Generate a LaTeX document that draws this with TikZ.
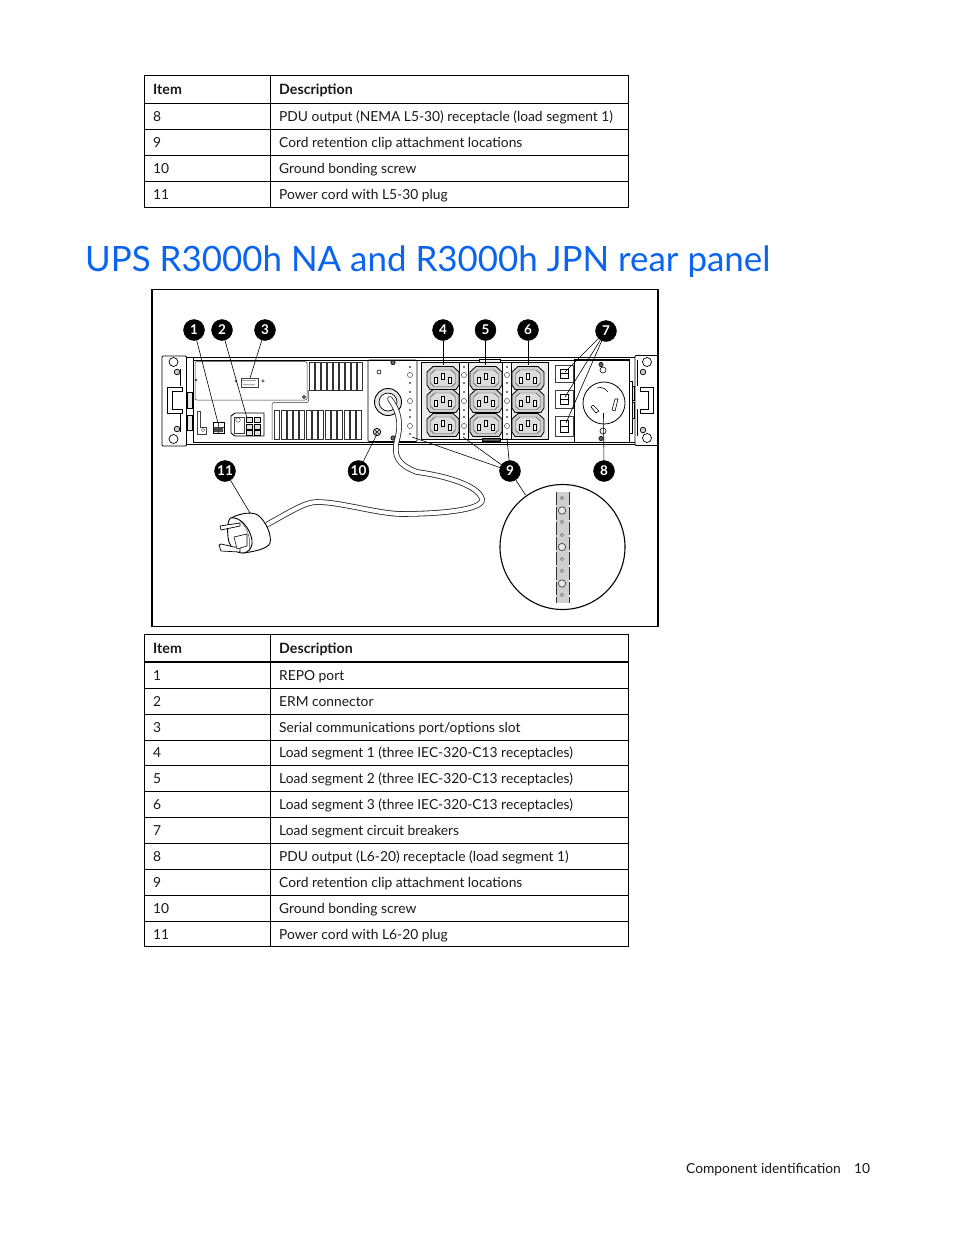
\documentclass[tikz,border=0pt]{standalone}
\usepackage{fontspec}
\setmainfont{Lato}
\definecolor{titleblue}{HTML}{0A64F0}
\definecolor{panelgray}{HTML}{CFCFCF}
\usetikzlibrary{calc}
\tikzset{
  cell/.style={anchor=base west,inner sep=0pt,font=\fontsize{13.8}{16}\selectfont,text=black!90},
  headcell/.style={cell,font=\fontsize{14.2}{16}\selectfont\bfseries},
  callout/.style={circle,fill=black,draw=black,text=white,minimum size=21pt,inner sep=0pt,font=\fontsize{13.5}{14}\selectfont\bfseries},
  leader/.style={draw=black,line width=.6pt},
  hw/.style={draw=black,line width=.7pt},
  hwthin/.style={draw=black!75,line width=.45pt},
  ventslot/.style={draw=black!80,line width=.45pt,fill=white},
  tabrule/.style={draw=black,line width=.8pt},
  tabthick/.style={draw=black,line width=1.6pt},
  pics/outlet/.style={code={
    \draw[hw,line width=.8pt,fill=panelgray] (-10,-11.5) -- (10,-11.5) -- (16,-6) -- (16,7) -- (13,11.5) -- (-13,11.5) -- (-16,7) -- (-16,-6) -- cycle;
    \draw[hwthin,fill=panelgray!70] (-8,-8) -- (8,-8) -- (12.5,-4) -- (12.5,5) -- (9,8.5) -- (-9,8.5) -- (-12.5,5) -- (-12.5,-4) -- cycle;
    \draw[hw,fill=white,line width=.5pt] (-8.5,-1) rectangle (-5.5,5);
    \draw[hw,fill=white,line width=.5pt] (5.5,-1) rectangle (8.5,5);
    \draw[hw,fill=white,line width=.5pt] (-1.3,-5) rectangle (1.3,1.5);
  }},
  pics/clipstrip/.style={code={
    \foreach \yy in {367,383,392,410,417,434}{\fill[black!70] (0,\yy) circle (1.1);}
    \foreach \yy in {375,401,426}{\draw[hwthin,fill=white] (0,\yy) circle (2.6);}
  }}
}
\begin{document}
\begin{tikzpicture}[x=1pt,y=-1pt]
\useasboundingbox (0,0) rectangle (954,1235);
\fill[white] (0,0) rectangle (954,1235);

% ---------- first table
\draw[tabrule] (144.5,75.5) rectangle (628.5,207.5);
\draw[tabrule] (270.5,75.5) -- (270.5,207.5);
\foreach \yy in {103.5,129.5,155.5,181.5}{\draw[tabrule] (144.5,\yy) -- (628.5,\yy);}
\node[headcell] (ah) at (153,94.5) {Item};
\node[headcell] (bh) at (279,94.5) {Description};
\node[cell] (a8) at (153,121) {8};
\node[cell] (b8) at (279,121) {PDU output (NEMA L5-30) receptacle (load segment 1)};
\node[cell] (a9) at (153,147) {9};
\node[cell] (b9) at (279,147) {Cord retention clip attachment locations};
\node[cell] (a10) at (153,173) {10};
\node[cell] (b10) at (279,173) {Ground bonding screw};
\node[cell] (a11) at (153,199) {11};
\node[cell] (b11) at (279,199) {Power cord with L5-30 plug};

% ---------- title
\node[anchor=base west,inner sep=0pt,text=titleblue,font=\fontsize{34.9}{40}\selectfont] (title) at (85,271) {UPS R3000h NA and R3000h JPN rear panel};

% ---------- figure frame
\draw[draw=black,line width=1.5pt] (152,289.5) rectangle (658,626.5);

% ---------- chassis
\draw[hw,line width=1.1pt] (187,357.5) -- (635,357.5);
\draw[hw,line width=.5pt] (193,360) -- (629,360);
\draw[hw,line width=1.6pt] (187,444.5) -- (635,444.5);
\draw[hw,line width=.5pt] (193,442) -- (635,442);
\draw[hw] (193,358) -- (193,443);
% left bracket
\draw[hw,line width=.9pt,rounded corners=1pt] (162,356) rectangle (186.5,446);
\draw[hw,line width=1.5pt] (180.5,369) -- (180.5,386) (180.5,409) -- (180.5,432);
\draw[hw,fill=white] (167,387) -- (182,387) -- (182,391) -- (172,391) -- (172,409) -- (182,409) -- (182,413) -- (167,413) -- cycle;
\draw[hw,fill=white] (173.5,362) circle (4.5) (173.5,439) circle (4.5);
\draw[hw,fill=panelgray] (177,372) circle (2.8) (177,429) circle (2.8);
\draw[hw,fill=panelgray!50] (187,392) rectangle (192,408) (187,415) rectangle (192,430);
% right bracket
\draw[hw,line width=.9pt,rounded corners=1pt] (635,355.5) rectangle (658,445.5);
\draw[hw,line width=1.5pt] (637.5,360) -- (637.5,386) (637.5,409) -- (637.5,436);
\draw[hw,fill=white] (640,387) -- (653,387) -- (653,413) -- (640,413) -- (640,409) -- (648,409) -- (648,391) -- (640,391) -- cycle;
\draw[hw,fill=white] (647,362) circle (4.5) (647,438) circle (4.5);
\draw[hw,fill=panelgray] (643,372) circle (2.8) (643,430) circle (2.8);
\draw[hw,fill=panelgray!50] (630,386) rectangle (634,400) (630,402) rectangle (634,418);

% upper left panel
\draw[draw=black!80,line width=.5pt,rounded corners=2pt] (195,361.5) -- (307,361.5) -- (307,400) -- (272,400) -- (195,400) -- cycle;
\draw[draw=black!80,line width=.5pt,rounded corners=2pt] (308.5,390) -- (308.5,402.5) -- (272,402.5) -- (272,440);
\draw[hwthin,fill=black!55] (196,380) circle (1) (304,397) circle (1.8);
\draw[hwthin,fill=white] (236,381) circle (1) (263,381) circle (1.2);
% vents
\foreach \xx in {309,315,...,357}{\draw[ventslot] (\xx,362.5) rectangle (\xx+5,390);}
\foreach \xx in {274.5,280.8,...,362}{\draw[ventslot] (\xx,410) rectangle (\xx+5,439);}
% REPO
\draw[hw,fill=white] (213,422) rectangle (224,433);
\fill[black!70] (214,428) rectangle (218,432) (219,428) rectangle (223,432);
\draw[hwthin] (218.5,423) -- (218.5,433) (213,427.5) -- (224,427.5);
\draw[hwthin] (197,411) -- (200,411) -- (200,427) -- (206,427) -- (206,434) -- (197,434) -- cycle;
\draw[hwthin] (203,430) circle (1.6);
% ERM
\draw[hw,fill=white,line width=.9pt] (231,416) -- (235,413) -- (264,413) -- (264,436) -- (235,436) -- (231,433) -- cycle;
\foreach \xx in {246,254}{\foreach \yy in {417,424,430}{\draw[hw,fill=panelgray!60,line width=.6pt] (\xx,\yy) rectangle +(6.5,4.8);}}
\draw[hwthin] (238,420) circle (2.3);
\draw[hwthin] (234,417) rectangle (244,433);
% serial
\draw[hwthin,fill=white] (241,378) rectangle (258,387.5);
\foreach \xx in {243,245,...,256}{\fill[black!75] (\xx,380.5) circle (.6);}
\foreach \xx in {244,246,...,255}{\fill[black!75] (\xx,384.8) circle (.6);}

% centre panel
\draw[hw,rounded corners=1pt] (368,360) -- (417,360) -- (417,441.5) -- (368,441.5) -- cycle;
\draw[hw,fill=black!60,line width=.6pt] (393,362.5) circle (2.2) (393,438) circle (2.2);
\draw[hw,line width=.6pt,fill=white] (379,372) circle (2);
\draw[hw,fill=panelgray!70,line width=.8pt] (377,432) circle (3.7);
\draw[hw,line width=.5pt] (375,430) -- (379,434) (375,434) -- (379,430);
\pic at (410,0) {clipstrip};
\draw[hw,line width=.9pt,fill=panelgray!50] (388,402) circle (13.5);
\draw[hw,line width=.7pt,fill=white] (388,402) circle (9);

% outlet block
\draw[hw,fill=panelgray!40] (421,362) rectangle (548,439);
\draw[hw,fill=panelgray!40] (479,359) rectangle (500,362);
\draw[hw,fill=black!70,line width=.3pt] (482,438) rectangle (500,441);
\foreach \xx in {464,507}{\fill[white] (\xx-4.5,362.5) rectangle (\xx+4.5,438.5);
  \draw[hw,line width=.5pt] (\xx-4.5,362.5) -- (\xx-4.5,438.5) (\xx+4.5,362.5) -- (\xx+4.5,438.5);
  \pic at (\xx,0) {clipstrip};}
\foreach \xx in {443,486,528}{\foreach \yy in {378,401,425}{\pic at (\xx,\yy) {outlet};}}

% breakers
\foreach \ya/\yb in {365/382,390/408,416/436}{
  \draw[hwthin] (555,\ya) rectangle (573.5,\yb);
  \draw[hw,fill=white,line width=.8pt] (560,\ya+4) rectangle (568.5,\yb-4);
  \draw[hw,line width=.5pt] (560,{(\ya+\yb)/2}) -- (568.5,{(\ya+\yb)/2});
}
% right panel
\draw[hw] (574,359.5) rectangle (629,442);
\draw[hw,fill=white] (629,381) rectangle (632,433);
\draw[hw,line width=.8pt,fill=white] (604,403) circle (21);
\draw[hw,line width=.6pt] (597,388) arc (250:300:9) -- (608,392);
\draw[hw,line width=.6pt] (615,399) -- (618,399) -- (615,411) -- (612,410) -- cycle;
\draw[hw,line width=.6pt] (591,407) -- (593,405) -- (599,411) -- (596,413) -- cycle;
\draw[hw,fill=black!65,line width=.5pt] (601,364.5) circle (2.2) (601,438.5) circle (2.2);
\draw[hw,line width=.6pt] (603,370) circle (3) (603,431) circle (3);

% ---------- power cord (double line)
\draw[line width=5.6pt,black!85,line cap=round] (390,399) .. controls (398,410) and (402,422) .. (397,440) .. controls (393,456) and (398,465) .. (417,472) .. controls (440,475) and (478,484) .. (482,499) .. controls (484,510) and (440,514) .. (400,514) .. controls (375,513) and (340,502) .. (317,502) .. controls (305,502) and (290,512) .. (268,524);
\draw[line width=4pt,white,line cap=round] (390,399) .. controls (398,410) and (402,422) .. (397,440) .. controls (393,456) and (398,465) .. (417,472) .. controls (440,475) and (478,484) .. (482,499) .. controls (484,510) and (440,514) .. (400,514) .. controls (375,513) and (340,502) .. (317,502) .. controls (305,502) and (290,512) .. (268,524);

% ---------- plug
\draw[hw,line width=.9pt,fill=white] (231,518) .. controls (240,513) and (254,511) .. (259,516) .. controls (266,522) and (272,535) .. (270,543) .. controls (268,549) and (252,552) .. (243,553) -- cycle;
\draw[hw,line width=.9pt,fill=white] (230.5,518) .. controls (240,516) and (250,528) .. (252,540) .. controls (253,549) and (247,554) .. (241,553) .. controls (232,551) and (229,545) .. (228,537) .. controls (227,527) and (228,520) .. (230.5,518) -- cycle;
\draw[hwthin] (237,518.5) .. controls (246,524) and (252,538) .. (249,551);
\draw[hw,line width=.7pt,fill=white] (220,526) -- (240,523) -- (240,526) -- (221,530) -- cycle;
\draw[hw,line width=.7pt,fill=white] (219,545) -- (221,544) -- (234,547) -- (240,547) -- (240,552) -- (221,551) -- cycle;
\draw[hw,line width=.6pt,fill=white] (234,537) -- (247,534) -- (247,546) -- (237,549) -- cycle;

% ---------- magnified detail
\draw[draw=black,line width=1.1pt,fill=white] (562.5,547) circle (62.5);
\fill[panelgray] (556,492) rectangle (569,603);
\draw[black!80,line width=.7pt,dash pattern=on 13pt off 2pt] (556,492) -- (556,603) (569,492) -- (569,603);
\foreach \yy in {498,522,535,559,571,595}{\draw[black!70,line width=.5pt,fill=panelgray!60] (562,\yy) circle (1.6);}
\foreach \yy in {510.5,547,583.5}{\draw[black!80,line width=.6pt,fill=panelgray!50] (562,\yy) circle (3.7);}

% ---------- callouts
\node[callout] (c1) at (194,330) {1};
\node[callout] (c2) at (222,330) {2};
\node[callout] (c3) at (265,330) {3};
\node[callout] (c4) at (443,330) {4};
\node[callout] (c5) at (485.5,330) {5};
\node[callout] (c6) at (528,330) {6};
\node[callout] (c7) at (606,331) {7};
\node[callout] (c8) at (604,471) {8};
\node[callout] (c9) at (510,471) {9};
\node[callout] (c10) at (358.5,471) {10};
\node[callout] (c11) at (225,471) {11};

\coordinate (p1) at (218,423);
\coordinate (p2) at (247,418);
\coordinate (p3) at (250,378);
\coordinate (p4) at (443,365);
\coordinate (p5) at (485.5,365);
\coordinate (p6) at (528,365);
\coordinate (p7a) at (565,372);
\coordinate (p7b) at (565,397);
\coordinate (p7c) at (566,423);
\coordinate (p8) at (603.5,413);
\coordinate (p9a) at (412,437);
\coordinate (p9b) at (463,437);
\coordinate (p9c) at (507,438);
\coordinate (p9d) at (525.5,495);
\coordinate (p10) at (377,434);
\coordinate (p11) at (250,513);
\draw[leader] (c1) -- (p1);
\draw[leader] (c2) -- (p2);
\draw[leader] (c3) -- (p3);
\draw[leader] (c4) -- (p4);
\draw[leader] (c5) -- (p5);
\draw[leader] (c6) -- (p6);
\draw[leader] (c7) -- (p7a);
\draw[leader] (c7) -- (p7b);
\draw[leader] (c7) -- (p7c);
\draw[leader] (c8) -- (p8);
\draw[leader] (c9) -- (p9a);
\draw[leader] (c9) -- (p9b);
\draw[leader] (c9) -- (p9c);
\draw[leader] (c9) -- (p9d);
\draw[leader] (c10) -- (p10);
\draw[leader] (c11) -- (p11);

% ---------- second table
\draw[tabrule] (144.5,634.5) rectangle (628.5,946.5);
\draw[tabrule] (270.5,634.5) -- (270.5,946.5);
\draw[tabthick] (144.5,662) -- (628.5,662);
\foreach \yy in {688,714,740,765.5,791.5,817.5,843.5,869,895,921}{\draw[tabrule] (144.5,\yy) -- (628.5,\yy);}
\node[headcell] (ch) at (153,653) {Item};
\node[headcell] (dh) at (279,653) {Description};
\node[cell] (r1a) at (153,680) {1};
\node[cell] (r1b) at (279,680) {REPO port};
\node[cell] (r2a) at (153,706) {2};
\node[cell] (r2b) at (279,706) {ERM connector};
\node[cell] (r3a) at (153,732) {3};
\node[cell] (r3b) at (279,732) {Serial communications port/options slot};
\node[cell] (r4a) at (153,757.5) {4};
\node[cell] (r4b) at (279,757.5) {Load segment 1 (three IEC-320-C13 receptacles)};
\node[cell] (r5a) at (153,783.5) {5};
\node[cell] (r5b) at (279,783.5) {Load segment 2 (three IEC-320-C13 receptacles)};
\node[cell] (r6a) at (153,809.5) {6};
\node[cell] (r6b) at (279,809.5) {Load segment 3 (three IEC-320-C13 receptacles)};
\node[cell] (r7a) at (153,835) {7};
\node[cell] (r7b) at (279,835) {Load segment circuit breakers};
\node[cell] (r8a) at (153,861) {8};
\node[cell] (r8b) at (279,861) {PDU output (L6-20) receptacle (load segment 1)};
\node[cell] (r9a) at (153,887) {9};
\node[cell] (r9b) at (279,887) {Cord retention clip attachment locations};
\node[cell] (r10a) at (153,913) {10};
\node[cell] (r10b) at (279,913) {Ground bonding screw};
\node[cell] (r11a) at (153,939) {11};
\node[cell] (r11b) at (279,939) {Power cord with L6-20 plug};

% ---------- footer
\node[cell] (foot) at (686,1173) {Component identification};
\node[cell] (pageno) at (854,1173) {10};
\end{tikzpicture}
\end{document}
